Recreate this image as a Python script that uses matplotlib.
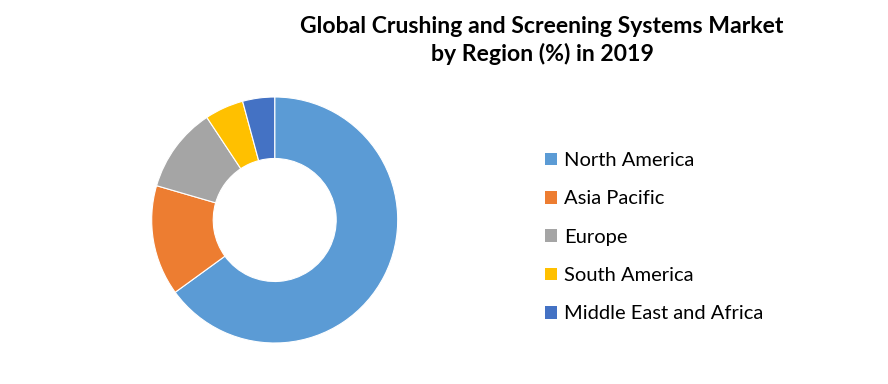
import matplotlib
matplotlib.use("Agg")
import matplotlib.pyplot as plt
from matplotlib.patches import Patch

regions = ["North America", "Asia Pacific", "Europe", "South America", "Middle East and Africa"]
shares = [65.0, 14.5, 11.2, 5.1, 4.2]
colors = ["#5B9BD5", "#ED7D31", "#A5A5A5", "#FFC000", "#4472C4"]
title = "Global Crushing and Screening Systems Market\nby Region (%) in 2019"

W, H = 888, 384
fig = plt.figure(figsize=(W / 100, H / 100), dpi=100)
fig.patch.set_facecolor("white")

cx, cy, r = 274.7, 220, 123
ax = fig.add_axes([(cx - r) / W, (H - cy - r) / H, 2 * r / W, 2 * r / H])
ax.pie(shares, colors=colors, startangle=90, counterclock=False, radius=1,
       wedgeprops=dict(width=0.5, edgecolor="white", linewidth=0.8))
ax.set_xlim(-1, 1)
ax.set_ylim(-1, 1)
ax.axis("off")

fig.text(542 / W, 1 - 16 / H, title, ha="center", va="top", fontsize=16.6,
         fontweight="bold", family="Lato", linespacing=1.3)

handles = [Patch(facecolor=c, edgecolor="none") for c in colors]
leg = fig.legend(handles, regions, loc="upper left",
                 bbox_to_anchor=(545 / W, 1 - 152 / H), frameon=False,
                 prop=dict(family="Lato", size=14.5), handlelength=0.6,
                 handleheight=0.6, handletextpad=0.35, labelspacing=1.06,
                 borderpad=0, borderaxespad=0)

fig.savefig("out.png", dpi=100, facecolor="white")
